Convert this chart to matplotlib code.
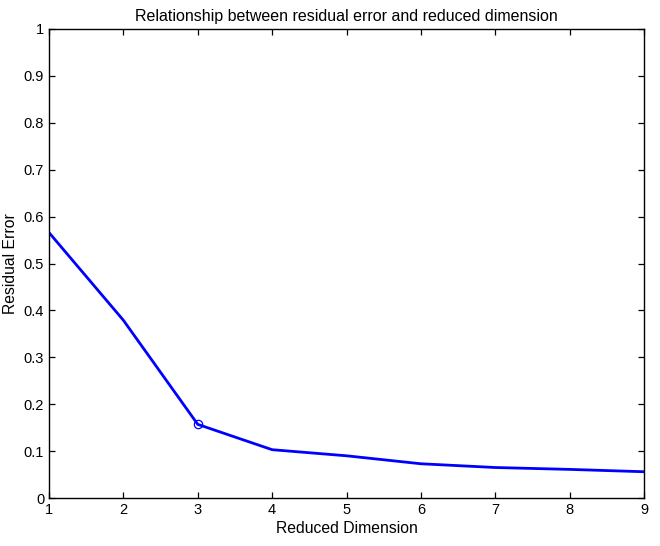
import matplotlib
matplotlib.use('Agg')
import matplotlib.pyplot as plt

# residual error vs reduced dimension
dims = [1, 2, 3, 4, 5, 6, 7, 8, 9]
errors = [0.566, 0.379, 0.157, 0.103, 0.090, 0.073, 0.065, 0.061, 0.056]
picked_dim = 3
picked_err = 0.157

plt.rcParams['font.family'] = ['Liberation Sans', 'DejaVu Sans']
plt.rcParams['font.size'] = 10

fig = plt.figure(figsize=(6.6, 5.46), dpi=100)
ax = fig.add_axes([49 / 660, 48 / 546, 595 / 660, 469 / 546])

ax.plot(dims, errors, color='#0000ff', linewidth=2.0)
ax.plot([picked_dim], [picked_err], 'o', markerfacecolor='none',
        markeredgecolor='#0000ff', markersize=6, markeredgewidth=0.9)

ax.set_xlim(1, 9)
ax.set_ylim(0, 1)
ax.set_xticks(range(1, 10))
ax.set_yticks([i / 10 for i in range(11)])
ax.set_yticklabels(['0'] + ['%.1f' % (i / 10) for i in range(1, 10)] + ['1'])
ax.tick_params(direction='in', top=True, right=True, length=4, width=0.9,
               labelsize=10.5)
for s in ax.spines.values():
    s.set_linewidth(1.0)

ax.set_xlabel('Reduced Dimension', fontsize=11.3, labelpad=3)
ax.set_ylabel('Residual Error', fontsize=11.3, labelpad=4)
ax.set_title('Relationship between residual error and reduced dimension',
             fontsize=11.5, pad=6)

fig.savefig('out.png', dpi=100)
